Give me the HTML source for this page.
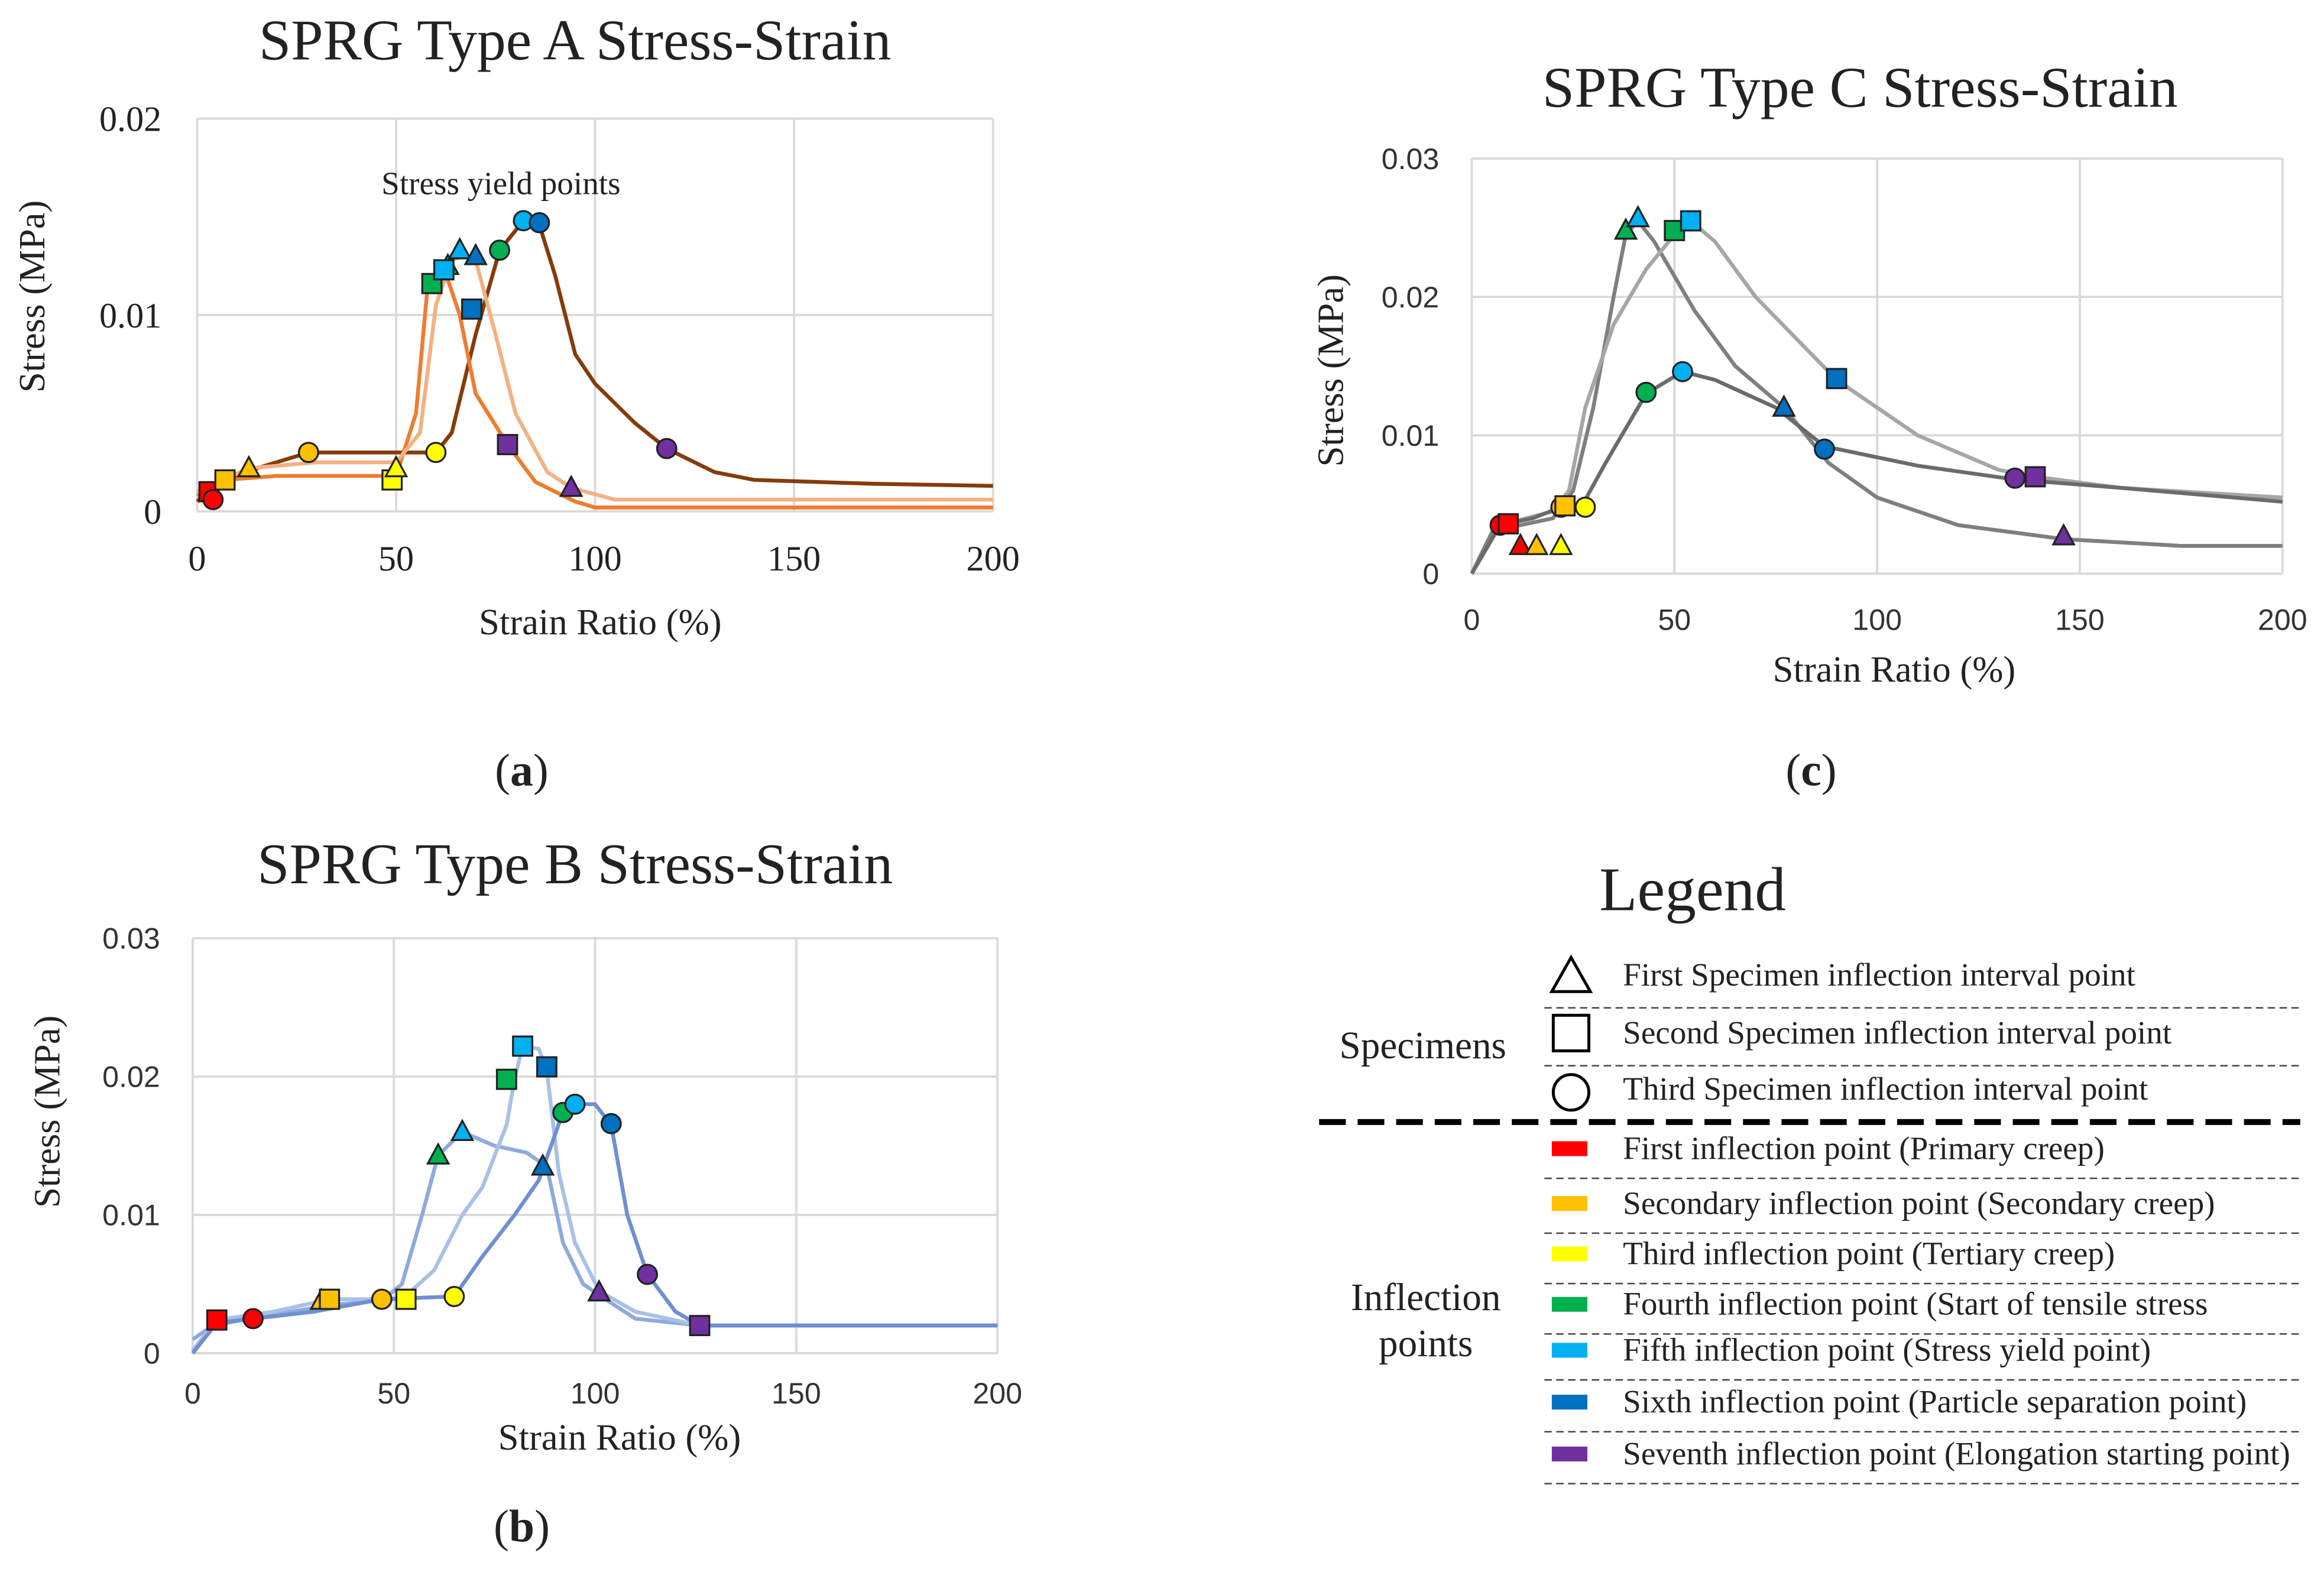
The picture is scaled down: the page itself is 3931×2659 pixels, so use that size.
<!DOCTYPE html>
<html><head><meta charset="utf-8"><style>
html,body{margin:0;padding:0;background:#fff;}
svg{display:block;}
.serif{font-family:"Liberation Serif",serif;fill:#222;}
.sans{font-family:"Liberation Sans",sans-serif;fill:#333;}
</style></head><body>
<svg id="root" width="3931" height="2659" viewBox="0 0 1568 1060.6" xmlns="http://www.w3.org/2000/svg">
<rect width="1568" height="1061" fill="#fff"/>
<g id="chartA"></g>
<g id="chartB"></g>
<g id="chartC"></g>
<text class="serif" x="352" y="530" font-size="31" text-anchor="middle">(<tspan font-weight="bold">a</tspan>)</text>
<text class="serif" x="1222" y="530" font-size="31" text-anchor="middle">(<tspan font-weight="bold">c</tspan>)</text>
<text class="serif" x="352" y="1040" font-size="31" text-anchor="middle">(<tspan font-weight="bold">b</tspan>)</text>
<g id="legend">
<text class="serif" x="1142" y="614" font-size="42" text-anchor="middle">Legend</text>
<text class="serif" x="960" y="714" font-size="26" text-anchor="middle">Specimens</text>
<text class="serif" x="962" y="884" font-size="26" text-anchor="middle">Inflection</text>
<text class="serif" x="962" y="915" font-size="26" text-anchor="middle">points</text>
<line x1="890" y1="757" x2="1552" y2="757" stroke="#000" stroke-width="4" stroke-dasharray="18,8"/>
</g>
</svg>
<script>
const NS="http://www.w3.org/2000/svg";
const COL={red:"#ff0000",orange:"#ffc000",yellow:"#ffff00",green:"#00b050",lblue:"#00b0f0",blue:"#0070c0",purple:"#7030a0"};

// ---- Chart A data ----
const aTicksX=[0,50,100,150,200];
const aTicksY=[0,0.01,0.02];
const aTickLabelsY=["0","0.01","0.02"];
const aSpec3X=[0,5,15,28,40,60,64,70,76,82,86,90,95,100,110,118,130,140,170,200];
const aSpec3Y=[0.0005,0.0015,0.0022,0.003,0.003,0.003,0.004,0.009,0.0133,0.0148,0.0146,0.012,0.008,0.0065,0.0045,0.0032,0.002,0.0016,0.0014,0.0013];
const aSpec2X=[0,7,20,50,55,58,62,66,70,78,85,95,100,200];
const aSpec2Y=[0.0008,0.0016,0.0018,0.0018,0.005,0.0116,0.0124,0.01,0.006,0.0034,0.0015,0.0005,0.0002,0.0002];
const aSpec1X=[0,13,30,50,56,60,64,67,70,75,80,88,94,105,200];
const aSpec1Y=[0.001,0.0022,0.0025,0.0025,0.004,0.0105,0.0128,0.013,0.0128,0.009,0.005,0.002,0.0012,0.0006,0.0006];
const aMarkX=[3,4,7,13,28,49,50,60,59,63,62,66,70,69,76,82,86,78,94,118];
const aMarkY=[0.001,0.0006,0.0016,0.0022,0.003,0.0016,0.0022,0.003,0.0116,0.0125,0.0123,0.0133,0.013,0.0103,0.0133,0.0148,0.0147,0.0034,0.0012,0.0032];
const aMarkShape=["s","c","s","t","c","s","t","c","s","t","s","t","t","s","c","c","c","s","t","c"];
const aMarkColor=["red","red","orange","orange","orange","yellow","yellow","yellow","green","green","lblue","lblue","blue","blue","green","lblue","blue","purple","purple","purple"];

// ---- Chart B data ----
const bTicksX=[0,50,100,150,200];
const bTicksY=[0,0.01,0.02,0.03];
const bTickLabelsY=["0","0.01","0.02","0.03"];
const bSpec1X=[0,5,20,35,47,52,57,61,67,75,83,88,92,97,101,110,126,200];
const bSpec1Y=[0.001,0.002,0.0028,0.0035,0.0038,0.005,0.01,0.0143,0.016,0.015,0.0145,0.0135,0.008,0.005,0.0042,0.0025,0.002,0.002];
const bSpec2X=[0,6,20,34,52,60,67,72,78,80,82,86,88,91,95,101,110,126,200];
const bSpec2Y=[0.0002,0.0024,0.003,0.0039,0.0039,0.006,0.01,0.012,0.0165,0.0198,0.0222,0.022,0.0205,0.013,0.008,0.0045,0.003,0.002,0.002];
const bSpec3X=[0,6,15,30,47,65,72,80,86,92,95,100,104,108,113,120,126,200];
const bSpec3Y=[0,0.0022,0.0025,0.003,0.0039,0.0041,0.007,0.01,0.0125,0.0174,0.018,0.018,0.0165,0.01,0.0057,0.003,0.002,0.002];
const bMarkX=[6,15,32,34,47,53,65,61,67,78,82,88,87,92,95,104,101,113,126];
const bMarkY=[0.0024,0.0025,0.0038,0.0039,0.0039,0.0039,0.0041,0.0143,0.016,0.0198,0.0222,0.0207,0.0135,0.0174,0.018,0.0166,0.0044,0.0057,0.002];
const bMarkShape=["s","c","t","s","c","s","c","t","t","s","s","s","t","c","c","c","t","c","s"];
const bMarkColor=["red","red","orange","orange","orange","yellow","yellow","green","lblue","green","lblue","blue","blue","green","lblue","blue","purple","purple","purple"];

// ---- Chart C data ----
const cTicksX=[0,50,100,150,200];
const cTicksY=[0,0.01,0.02,0.03];
const cTickLabelsY=["0","0.01","0.02","0.03"];
const cSpec1X=[0,5,12,20,25,30,35,38,41,45,55,65,77,88,100,120,146,175,200];
const cSpec1Y=[0,0.003,0.0035,0.004,0.006,0.012,0.02,0.0245,0.0255,0.024,0.019,0.015,0.012,0.008,0.0055,0.0035,0.0025,0.002,0.002];
const cSpec2X=[0,7,20,24,28,35,43,50,54,60,70,80,90,110,130,139,160,200];
const cSpec2Y=[0,0.0035,0.0045,0.006,0.012,0.018,0.022,0.0245,0.0255,0.024,0.02,0.017,0.014,0.01,0.0075,0.007,0.0062,0.0055];
const cSpec3X=[0,7,15,22,27,33,43,52,60,75,87,110,134,160,200];
const cSpec3Y=[0,0.0035,0.004,0.0048,0.0048,0.008,0.013,0.0146,0.014,0.012,0.0092,0.0078,0.0068,0.0062,0.0052];
const cMarkX=[7,9,12,16,22,22,23,28,38,41,50,54,43,52,77,90,87,134,139,146];
const cMarkY=[0.0035,0.0036,0.002,0.002,0.002,0.0048,0.0049,0.0048,0.0248,0.0257,0.0248,0.0255,0.0131,0.0146,0.012,0.0141,0.009,0.0069,0.007,0.0027];
const cMarkShape=["c","s","t","t","t","c","s","c","t","t","s","s","c","c","t","s","c","c","s","t"];
const cMarkColor=["red","red","red","orange","yellow","orange","orange","yellow","green","lblue","green","lblue","green","lblue","blue","blue","blue","purple","purple","purple"];

function mk(tag,attrs,parent){const e=document.createElementNS(NS,tag);for(const k in attrs)e.setAttribute(k,attrs[k]);parent.appendChild(e);return e;}

function drawChart(g,o){
  const sx=v=>o.x0+(v-o.xmin)/(o.xmax-o.xmin)*(o.x1-o.x0);
  const sy=v=>o.y0-(v-o.ymin)/(o.ymax-o.ymin)*(o.y0-o.y1);
  o.ticksX.forEach((t,i)=>{
    const l=mk("line",{x1:sx(t),x2:sx(t),y1:o.y0,y2:o.y1,stroke:"#d9d9d9","stroke-width":1.5},g);
    
    
    const tx=mk("text",{x:sx(t),y:o.y0+o.xlOff,"font-size":o.tfs,"text-anchor":"middle",class:o.tcls},g);
    tx.textContent=String(t);
    
    
  });
  o.ticksY.forEach((t,i)=>{
    const l=mk("line",{x1:o.x0,x2:o.x1,y1:sy(t),y2:sy(t),stroke:"#d9d9d9","stroke-width":1.5},g);
    
    
    const tx=mk("text",{x:o.x0-o.ylOff,y:sy(t)+o.tfs*0.35,"font-size":o.tfs,"text-anchor":"end",class:o.tcls},g);
    tx.textContent=o.tickLabelsY[i];
    
    
  });
  const title=mk("text",{x:o.tx,y:o.ty,"font-size":39,"text-anchor":"middle",class:"serif"},g);
  title.textContent=o.title;
  
  
  const xt=mk("text",{x:o.xtX,y:o.xtY,"font-size":25,"text-anchor":"middle",class:"serif"},g);
  xt.textContent="Strain Ratio (%)";
  
  
  const yt=mk("text",{x:0,y:0,"font-size":25,"text-anchor":"middle",class:"serif",transform:`translate(${o.ytX},${o.ytY}) rotate(-90)`},g);
  yt.textContent="Stress (MPa)";
  
  
  o.series.forEach(s=>{
    const d=s.x.map((v,i)=>(i?"L":"M")+sx(v).toFixed(1)+","+sy(s.y[i]).toFixed(1)).join(" ");
    const p=mk("path",{d:d,fill:"none",stroke:s.color,"stroke-width":2.6,"stroke-linejoin":"round"},g);
    
    
  });
  o.mx.forEach((v,i)=>{
    const cx=sx(v),cy=sy(o.my[i]),c=COL[o.mc[i]],sh=o.ms[i];let e;
    if(sh==="c") e=mk("circle",{cx:cx,cy:cy,r:6.5,fill:c,stroke:"#222","stroke-width":1.3},g);
    else if(sh==="s") e=mk("rect",{x:cx-6.5,y:cy-6.5,width:13,height:13,fill:c,stroke:"#222","stroke-width":1.3},g);
    else e=mk("path",{d:`M${cx},${cy-7.5} L${cx+7},${cy+5.5} L${cx-7},${cy+5.5} Z`,fill:c,stroke:"#222","stroke-width":1.3},g);
    
    
  });
}

drawChart(document.getElementById("chartA"),{x0:133,x1:670,y0:345,y1:80,xmin:0,xmax:200,ymin:0,ymax:0.02,
  ticksX:aTicksX,ticksY:aTicksY,tickLabelsY:aTickLabelsY,tfs:24,tcls:"serif",xlOff:40,ylOff:24,
  title:"SPRG Type A Stress-Strain",tx:388,ty:40,xtX:405,xtY:428,ytX:30,ytY:200,
  series:[{x:aSpec3X,y:aSpec3Y,color:"#843c0c",name:"series-a-specimen3"},{x:aSpec2X,y:aSpec2Y,color:"#ed7d31",name:"series-a-specimen2"},{x:aSpec1X,y:aSpec1Y,color:"#f4b183",name:"series-a-specimen1"}],
  mx:aMarkX,my:aMarkY,ms:aMarkShape,mc:aMarkColor});
drawChart(document.getElementById("chartB"),{x0:130,x1:673,y0:913,y1:633,xmin:0,xmax:200,ymin:0,ymax:0.03,
  ticksX:bTicksX,ticksY:bTicksY,tickLabelsY:bTickLabelsY,tfs:20,tcls:"sans",xlOff:34,ylOff:22,
  title:"SPRG Type B Stress-Strain",tx:388,ty:596,xtX:418,xtY:978,ytX:40,ytY:750,
  series:[{x:bSpec1X,y:bSpec1Y,color:"#8faadc",name:"series-b-specimen1"},{x:bSpec2X,y:bSpec2Y,color:"#a9c0e8",name:"series-b-specimen2"},{x:bSpec3X,y:bSpec3Y,color:"#6f8fd0",name:"series-b-specimen3"}],
  mx:bMarkX,my:bMarkY,ms:bMarkShape,mc:bMarkColor});
drawChart(document.getElementById("chartC"),{x0:993,x1:1540,y0:387,y1:107,xmin:0,xmax:200,ymin:0,ymax:0.03,
  ticksX:cTicksX,ticksY:cTicksY,tickLabelsY:cTickLabelsY,tfs:20,tcls:"sans",xlOff:38,ylOff:22,
  title:"SPRG Type C Stress-Strain",tx:1255,ty:72,xtX:1278,xtY:460,ytX:906,ytY:250,
  series:[{x:cSpec1X,y:cSpec1Y,color:"#7f7f7f",name:"series-c-specimen1"},{x:cSpec2X,y:cSpec2Y,color:"#a6a6a6",name:"series-c-specimen2"},{x:cSpec3X,y:cSpec3Y,color:"#6b6b6b",name:"series-c-specimen3"}],
  mx:cMarkX,my:cMarkY,ms:cMarkShape,mc:cMarkColor});

const ann=mk("text",{x:338,y:131,"font-size":22,"text-anchor":"middle",class:"serif"},document.getElementById("chartA"));
ann.textContent="Stress yield points";



const lg=document.getElementById("legend");
const shapeRows=[["t","First Specimen inflection interval point",658],["s","Second Specimen inflection interval point",697],["c","Third Specimen inflection interval point",735]];
shapeRows.forEach((r,i)=>{
  let e;
  if(r[0]==="t") e=mk("path",{d:"M1060,646 L1073,669 L1047,669 Z",fill:"none",stroke:"#000","stroke-width":2},lg);
  else if(r[0]==="s") e=mk("rect",{x:1048,y:685,width:24,height:24,fill:"none",stroke:"#000","stroke-width":2},lg);
  else e=mk("circle",{cx:1060,cy:737,r:12,fill:"none",stroke:"#000","stroke-width":2},lg);
  
  
  const t=mk("text",{x:1095,y:r[2]+7,"font-size":22,class:"serif"},lg);
  t.textContent=r[1];
  
  
  if(i<2){const l=mk("line",{x1:1042,x2:1552,y1:r[2]+22,y2:r[2]+22,stroke:"#444","stroke-width":1,"stroke-dasharray":"5,3"},lg);
    
    }
});
const colorRows=[["red","First inflection point (Primary creep)",775],["orange","Secondary inflection point (Secondary creep)",812],["yellow","Third inflection point (Tertiary creep)",846],["green","Fourth inflection point (Start of tensile stress",880],["lblue","Fifth inflection point (Stress yield point)",911],["blue","Sixth inflection point (Particle separation point)",946],["purple","Seventh inflection point (Elongation starting point)",981]];
colorRows.forEach((r,i)=>{
  const s=mk("rect",{x:1047,y:r[2]-5,width:24,height:10,fill:COL[r[0]]},lg);
  
  
  const t=mk("text",{x:1095,y:r[2]+7,"font-size":22,class:"serif"},lg);
  t.textContent=r[1];
  
  
  const l=mk("line",{x1:1042,x2:1552,y1:r[2]+20,y2:r[2]+20,stroke:"#444","stroke-width":1,"stroke-dasharray":"5,3"},lg);
  
  
});
</script>
</body></html>
